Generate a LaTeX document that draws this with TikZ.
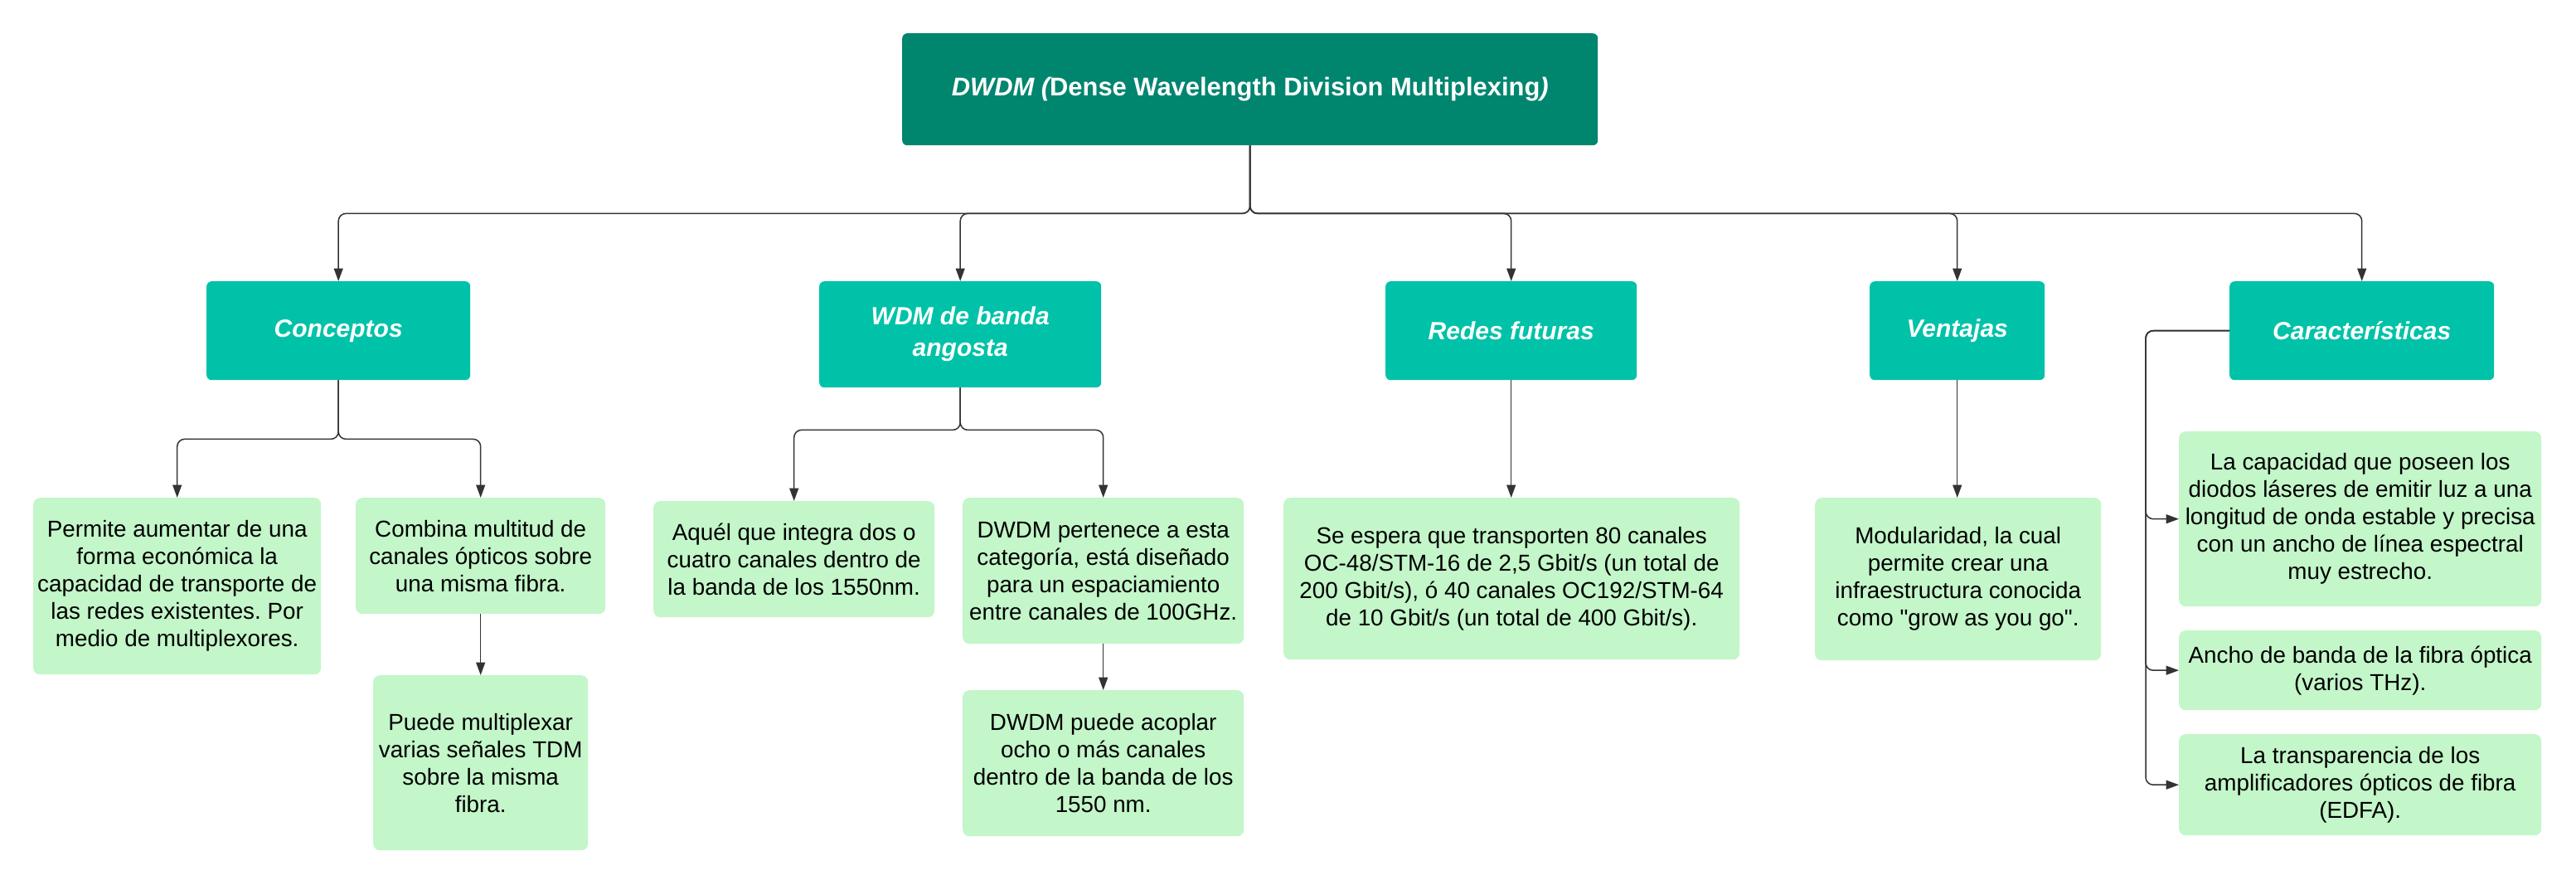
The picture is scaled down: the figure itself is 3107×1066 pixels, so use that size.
\documentclass[tikz,border=0pt]{standalone}
\usepackage{fontspec}
\setmainfont{Liberation Sans}[Ligatures=TeXOff]
\usetikzlibrary{arrows.meta}
\definecolor{rootc}{HTML}{00856F}
\definecolor{headc}{HTML}{00C2A8}
\definecolor{leafc}{HTML}{C3F6C9}
\definecolor{linec}{HTML}{333333}
\frenchspacing
\begin{document}
\begin{tikzpicture}[x=1pt,y=-1pt,
  rootbox/.style={fill=rootc, rounded corners=6pt, anchor=north west, inner sep=0pt, align=center, text=white, font=\fontsize{30.9}{37}\selectfont\bfseries},
  headbox/.style={fill=headc, rounded corners=6pt, anchor=north west, inner sep=0pt, align=center, text=white, font=\fontsize{30}{38}\selectfont\bfseries\itshape},
  leafbox/.style={fill=leafc, rounded corners=8pt, anchor=north west, inner sep=0pt, align=center, text=black, font=\fontsize{27.8}{33}\selectfont},
  conn/.style={draw=linec, line width=1.5pt, rounded corners=9pt, -{Triangle[length=15.5pt,width=11pt]}},
]
\useasboundingbox (0,0) rectangle (3107,1066);

% root
\node[rootbox, minimum width=839pt, minimum height=135pt] (root) at (1088,40)
  {{\itshape DWDM (}Dense Wavelength Division Multiplexing{\itshape )}};

% level 1
\node[headbox, minimum width=318pt, minimum height=119pt] (conc) at (249,339) {Conceptos};
\node[headbox, minimum width=340pt, minimum height=128pt] (wdm) at (988,339) {WDM de banda\\angosta};
\node[headbox, minimum width=303pt, minimum height=119pt] (red) at (1671,339) {Redes futuras};
\node[headbox, minimum width=211pt, minimum height=119pt] (vent) at (2255,339) {Ventajas};
\node[headbox, minimum width=319pt, minimum height=119pt] (kar) at (2689,339) {Características};

% level 2
\node[leafbox, minimum width=347pt, minimum height=213pt] (c1) at (40,600)
  {Permite aumentar de una\\forma económica la\\capacidad de transporte de\\las redes existentes. Por\\medio de multiplexores.};
\node[leafbox, minimum width=301pt, minimum height=140pt] (c2) at (429,600)
  {Combina multitud de\\canales ópticos sobre\\una misma fibra.};
\node[leafbox, minimum width=259pt, minimum height=211pt] (c3) at (450,814)
  {Puede multiplexar\\varias señales TDM\\sobre la misma\\fibra.};
\node[leafbox, minimum width=339pt, minimum height=140pt] (w1) at (788,604)
  {Aquél que integra dos o\\cuatro canales dentro de\\la banda de los 1550nm.};
\node[leafbox, minimum width=339pt, minimum height=176pt] (w2) at (1161,600)
  {DWDM pertenece a esta\\categoría, está diseñado\\para un espaciamiento\\entre canales de 100GHz.};
\node[leafbox, minimum width=339pt, minimum height=176pt] (w3) at (1161,832)
  {DWDM puede acoplar\\ocho o más canales\\dentro de la banda de los\\1550 nm.};
\node[leafbox, minimum width=550pt, minimum height=195pt] (r1) at (1548,600)
  {Se espera que transporten 80 canales\\OC-48/STM-16 de 2,5 Gbit/s (un total de\\200 Gbit/s), ó 40 canales OC192/STM-64\\de 10 Gbit/s (un total de 400 Gbit/s).};
\node[leafbox, minimum width=345pt, minimum height=196pt] (v1) at (2189,600)
  {Modularidad, la cual\\permite crear una\\infraestructura conocida\\como "grow as you go".};
\node[leafbox, minimum width=437pt, minimum height=211pt] (k1) at (2628,520)
  {La capacidad que poseen los\\diodos láseres de emitir luz a una\\longitud de onda estable y precisa\\con un ancho de línea espectral\\muy estrecho.};
\node[leafbox, minimum width=437pt, minimum height=96pt] (k2) at (2628,760)
  {Ancho de banda de la fibra óptica\\(varios THz).};
\node[leafbox, minimum width=437pt, minimum height=122pt] (k3) at (2628,885)
  {La transparencia de los\\amplificadores ópticos de fibra\\(EDFA).};

% connectors from root
\foreach \t in {conc,wdm,red,vent,kar}
  \draw[conn] (root.south) -- ++(0,82) -| (\t.north);

% Conceptos
\draw[conn] (conc.south) -- ++(0,71) -| (c1.north);
\draw[conn] (conc.south) -- ++(0,71) -| (c2.north);
\draw[conn] (c2.south) -- (c3.north);

% WDM
\draw[conn] (wdm.south) -- ++(0,51) -| (w1.north);
\draw[conn] (wdm.south) -- ++(0,51) -| (w2.north);
\draw[conn] (w2.south) -- (w3.north);

% Redes, Ventajas
\draw[conn] (red.south) -- (red.south |- r1.north);
\draw[conn] (vent.south) -- (vent.south |- v1.north);

% Caracteristicas
\foreach \t in {k1,k2,k3}
  \draw[conn] (kar.west) -- ++(-101,0) |- (\t.west);
\end{tikzpicture}
\end{document}
